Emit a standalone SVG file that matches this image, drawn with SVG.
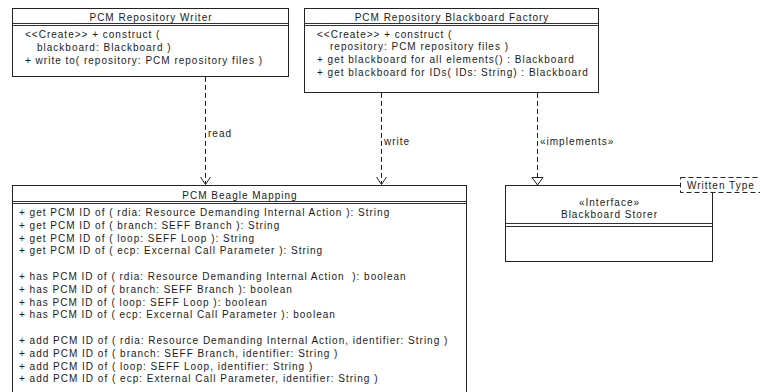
<svg xmlns="http://www.w3.org/2000/svg" width="760" height="392" viewBox="0 0 760 392">
<defs>
<style>
.box{fill:#fff;stroke:#222;stroke-width:1}
.sep{stroke:#333;stroke-width:1}
.t{font-family:"Liberation Sans",Arial,sans-serif;font-size:10px;letter-spacing:1px;fill:#1a1a1a}
.h{font-family:"Liberation Sans",Arial,sans-serif;font-size:10px;letter-spacing:1px;fill:#1a1a1a;text-anchor:middle}
.dash{stroke:#222;stroke-width:1;stroke-dasharray:5,3;fill:none}
.head{fill:none;stroke:#222;stroke-width:1}
</style>
</defs>
<rect width="760" height="392" fill="#fff"/>
<g id="connectors">
<line class="dash" x1="205.5" y1="77" x2="205.5" y2="184"/>
<path class="head" d="M200.5,177 L205.5,184.5 L210.5,177"/>
<text class="t" x="208" y="137">read</text>
<line class="dash" x1="381.5" y1="93" x2="381.5" y2="184"/>
<path class="head" d="M376.5,177 L381.5,184.5 L386.5,177"/>
<text class="t" x="384" y="144.5">write</text>
<line class="dash" x1="537.5" y1="93" x2="537.5" y2="177"/>
<path d="M532,177.5 L543,177.5 L537.5,185 Z" fill="#fff" stroke="#222"/>
<text class="t" x="540" y="144.5">«implements»</text>
</g>
<g id="writer">
<rect class="box" x="12.5" y="8.5" width="276" height="68"/>
<text class="h" x="151" y="21">PCM Repository Writer</text>
<line class="sep" x1="12.5" y1="23.5" x2="288.5" y2="23.5"/>
<line class="sep" x1="12.5" y1="25.5" x2="288.5" y2="25.5"/>
<text class="t" x="25" y="38">&lt;&lt;Create&gt;&gt; + construct (</text>
<text class="t" x="37" y="50.8">blackboard: Blackboard )</text>
<text class="t" x="25" y="63.6">+ write to( repository: PCM repository files )</text>
</g>
<g id="factory">
<rect class="box" x="304.5" y="8.5" width="294" height="84"/>
<text class="h" x="452" y="21">PCM Repository Blackboard Factory</text>
<line class="sep" x1="304.5" y1="23.5" x2="598.5" y2="23.5"/>
<line class="sep" x1="304.5" y1="25.5" x2="598.5" y2="25.5"/>
<text class="t" x="317" y="37.5">&lt;&lt;Create&gt;&gt; + construct (</text>
<text class="t" x="330" y="50.3">repository: PCM repository files )</text>
<text class="t" x="317" y="63.1">+ get blackboard for all elements() : Blackboard</text>
<text class="t" x="317" y="75.9">+ get blackboard for IDs( IDs: String) : Blackboard</text>
</g>
<g id="mapping">
<rect class="box" x="12.5" y="185.5" width="454" height="220"/>
<text class="h" x="240" y="198.5">PCM Beagle Mapping</text>
<line class="sep" x1="12.5" y1="201.5" x2="466.5" y2="201.5"/>
<line class="sep" x1="12.5" y1="203.5" x2="466.5" y2="203.5"/>
<text class="t" x="19" y="216">+ get PCM ID of ( rdia: Resource Demanding Internal Action ): String</text>
<text class="t" x="19" y="228.8">+ get PCM ID of ( branch: SEFF Branch ): String</text>
<text class="t" x="19" y="241.6">+ get PCM ID of ( loop: SEFF Loop ): String</text>
<text class="t" x="19" y="254.4">+ get PCM ID of ( ecp: Excernal Call Parameter ): String</text>
<text class="t" x="19" y="280" xml:space="preserve">+ has PCM ID of ( rdia: Resource Demanding Internal Action  ): boolean</text>
<text class="t" x="19" y="292.8">+ has PCM ID of ( branch: SEFF Branch ): boolean</text>
<text class="t" x="19" y="305.6">+ has PCM ID of ( loop: SEFF Loop ): boolean</text>
<text class="t" x="19" y="318.4">+ has PCM ID of ( ecp: Excernal Call Parameter ): boolean</text>
<text class="t" x="19" y="344">+ add PCM ID of ( rdia: Resource Demanding Internal Action, identifier: String )</text>
<text class="t" x="19" y="356.8">+ add PCM ID of ( branch: SEFF Branch, identifier: String )</text>
<text class="t" x="19" y="369.6">+ add PCM ID of ( loop: SEFF Loop, identifier: String )</text>
<text class="t" x="19" y="382.4">+ add PCM ID of ( ecp: External Call Parameter, identifier: String )</text>
</g>
<g id="storer">
<rect class="box" x="505.5" y="185.5" width="207" height="76"/>
<text class="h" x="609.5" y="206">«Interface»</text>
<text class="h" x="609.5" y="217.5">Blackboard Storer</text>
<line class="sep" x1="505.5" y1="223.5" x2="712.5" y2="223.5"/>
<line class="sep" x1="505.5" y1="226.5" x2="712.5" y2="226.5"/>
<rect x="680.5" y="177.5" width="90" height="15" fill="#fff" stroke="#222" stroke-dasharray="5,3"/>
<text class="t" x="687" y="189">Written Type</text>
</g>
</svg>
